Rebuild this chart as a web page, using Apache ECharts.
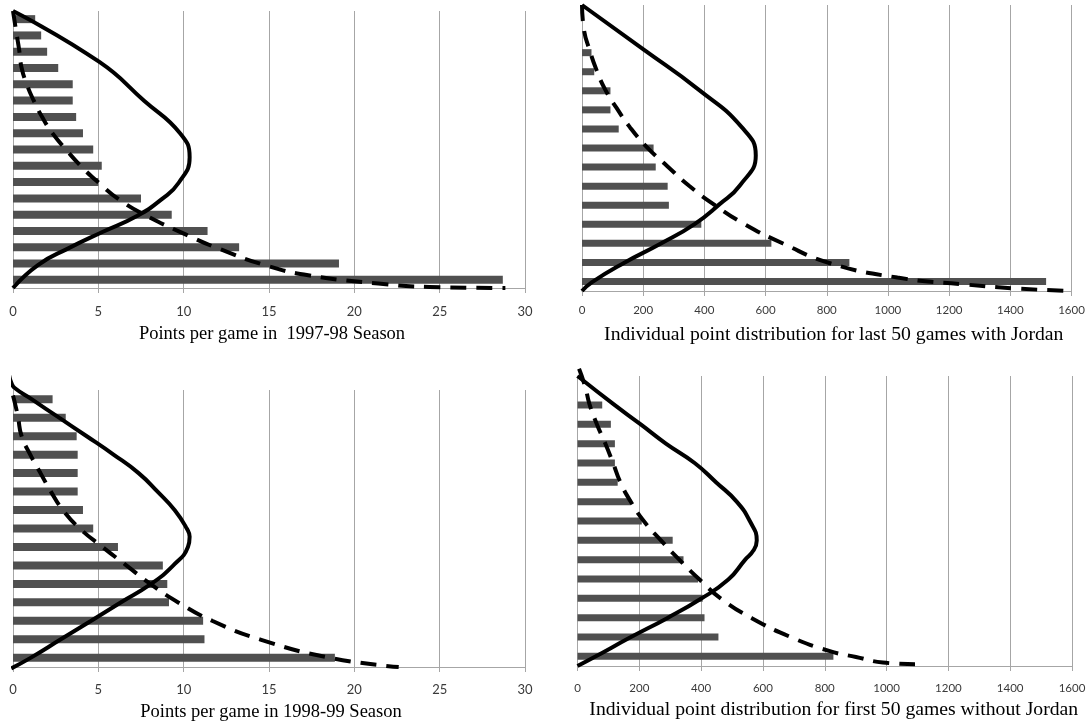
<!DOCTYPE html>
<html>
<head>
<meta charset="utf-8">
<script src="https://cdn.jsdelivr.net/npm/echarts/dist/echarts.min.js"></script>
<style>
html,body{margin:0;padding:0;background:#fff;}
#chart{width:1090px;height:723px;}
</style>
</head>
<body>
<div id="chart"></div>
<script>
// ---------- DATA ----------
const titles = [
  'Points per game in  1997-98 Season',
  'Individual point distribution for last 50 games with Jordan',
  'Points per game in 1998-99 Season',
  'Individual point distribution for first 50 games without Jordan'
];
const cats1 = ['P1','P2','P3','P4','P5','P6','P7','P8','P9','P10','P11','P12','P13','P14','P15','P16','P17'];
const cats2 = ['P1','P2','P3','P4','P5','P6','P7','P8','P9','P10','P11','P12','P13','P14','P15'];
const cats3 = ['P1','P2','P3','P4','P5','P6','P7','P8','P9','P10','P11','P12','P13','P14','P15'];
const cats4 = ['P1','P2','P3','P4','P5','P6','P7','P8','P9','P10','P11','P12','P13','P14','P15'];

const bars1 = [1.3, 1.65, 2.0, 2.65, 3.5, 3.5, 3.7, 4.1, 4.7, 5.2, 5.0, 7.5, 9.3, 11.4, 13.25, 19.1, 28.7];
const bars2 = [0, 0, 31, 40, 93, 93, 120, 234, 241, 280, 284, 390, 619, 874, 1517];
const bars3 = [2.32, 3.09, 3.73, 3.79, 3.79, 3.79, 4.1, 4.7, 6.15, 8.78, 9.04, 9.14, 11.14, 11.22, 18.86];
const bars4 = [0, 80, 108, 121, 121, 130, 171, 208, 308, 343, 390, 405, 411, 456, 828];

// curves: [value, height % of plot (0 = axis line, 100 = top)]
const solid1 = [[0,100],[5.06,81.6],[7.68,67.6],[9.8,55.8],[10.35,47.2],[9.71,38],[8.7,32],[7.29,26.1],[5.27,20.3],[3.27,14.4],[1.46,8.3],[0,0]];
const dashed1 = [[0,100],[0.2,92.1],[0.36,86],[0.5,79.6],[0.81,73.5],[1.21,67.7],[1.71,61.7],[2.32,55.8],[3.13,49.8],[4.03,43.7],[5.04,37.9],[6.25,31.8],[7.87,25.9],[9.88,20],[12.1,14.1],[14.9,8],[17.3,4.6],[21.4,1.6],[24.4,0.4],[28.85,0]];
const solid2 = [[0,100],[203,84.3],[379,70.6],[522,57.3],[568,47.4],[516,36.9],[448,30.2],[368,23.4],[258,16.6],[137,9.8],[33,3.1],[0,0]];
const dashed2 = [[0,100],[6.6,91.2],[25,84.2],[47,77.4],[75,70.6],[113,64],[157,57.2],[212,50.3],[278,43.7],[350,36.8],[432,30.2],[531,23.4],[657,16.6],[811,9.7],[1031,4.7],[1251,2.3],[1416,0.9],[1600,0]];
const solid3 = [[-0.23,105.4],[-0.09,102.5],[0.1,100.7],[1.11,96.6],[2.7,90],[4.3,83.4],[5.89,76.7],[7.36,70],[8.47,63.3],[9.48,56.6],[10.19,49.9],[10.35,47],[10.25,43.3],[9.38,36.6],[8.07,29.9],[6.31,23.3],[4.56,16.6],[2.78,9.9],[1.03,3.3],[-0.1,-0.5]];
const dashed3 = [[0,98],[0.16,94],[0.3,90],[0.5,83.4],[1.01,76.7],[1.61,70],[2.22,63.3],[2.93,56.6],[3.93,49.9],[5.25,43.3],[6.66,36.6],[8.07,29.9],[9.68,23.3],[11.7,16.6],[14.5,9.9],[18.6,3.3],[22.6,0]];
const solid4 = [[0,100],[117.5,90.2],[204.6,83.3],[286,76.7],[379,70],[449,63.3],[515,56.7],[558,49.9],[580,43.3],[569,39.8],[542,36.6],[488,29.8],[398,23.1],[290,16.5],[170,9.8],[55,3.1],[0,0]];
const dashed4 = [[5,102.5],[25,96.3],[39,90.2],[63,83.3],[90,76.7],[115,70],[139,63.3],[172,56.7],[215,49.9],[270,43.3],[330,36.6],[395,29.8],[466,23.1],[564,16.5],[694,9.8],[814,5.2],[901,3.1],[988,1.2],[1092,0.6]];

const xMax1 = 30, xStep1 = 5;
const xMax2 = 1600, xStep2 = 200;

// ---------- LAYOUT / STYLE ----------
const panels = [
  {grid:{left:13, top:11, width:512, height:277}, max:xMax1, interval:xStep1, cats:cats1, bars:bars1, solid:solid1, dashed:dashed1, title:titles[0], barWidth:8, labelSize:13, labelMargin:17, nameSize:18.5, nameGap:37, namePad:6},
  {grid:{left:582, top:5, width:489.5, height:286}, max:xMax2, interval:xStep2, cats:cats2, bars:bars2, solid:solid2, dashed:dashed2, title:titles[1], barWidth:7, labelSize:11.5, labelMargin:13, nameSize:19.7, nameGap:34, namePad:14},
  {grid:{left:13, top:390, width:512, height:277}, max:xMax1, interval:xStep1, cats:cats3, bars:bars3, solid:solid3, dashed:dashed3, title:titles[2], barWidth:8, labelSize:13, labelMargin:16, nameSize:18.5, nameGap:36, namePad:4},
  {grid:{left:577.5, top:376, width:494.5, height:290}, max:xMax2, interval:xStep2, cats:cats4, bars:bars4, solid:solid4, dashed:dashed4, title:titles[3], barWidth:7, labelSize:11.5, labelMargin:16, nameSize:19.7, nameGap:34, namePad:18}
];

const gridColor = '#a6a6a6';
const option = {
  animation:false,
  backgroundColor:'#ffffff',
  grid:[], xAxis:[], yAxis:[], series:[]
};

panels.forEach((p, i) => {
  option.grid.push(Object.assign({containLabel:false}, p.grid));
  option.xAxis.push({
    type:'value', gridIndex:i, min:0, max:p.max, interval:p.interval,
    name:p.title, nameLocation:'middle', nameGap:p.nameGap,
    nameTextStyle:{fontFamily:'Liberation Serif', fontSize:p.nameSize, color:'#000', padding:[0,0,0,p.namePad]},
    axisLine:{show:true, onZero:false, lineStyle:{color:gridColor, width:1}},
    axisTick:{show:true, length:5, lineStyle:{color:gridColor}},
    axisLabel:{margin:p.labelMargin, fontFamily:'Lato', fontSize:p.labelSize, color:'#3a3a3a', formatter:(v)=>String(v)},
    splitLine:{show:true, lineStyle:{color:gridColor, width:1}}
  });
  option.yAxis.push({
    type:'category', gridIndex:i, data:p.cats, inverse:true,
    axisLine:{show:true, onZero:false, lineStyle:{color:gridColor}},
    axisTick:{show:false}, axisLabel:{show:false}, splitLine:{show:false}
  });
  option.yAxis.push({
    type:'value', gridIndex:i, min:0, max:100, show:false, position:'right'
  });
  option.series.push({
    type:'bar', xAxisIndex:i, yAxisIndex:2*i, data:p.bars,
    barWidth:p.barWidth, itemStyle:{color:'#505050'}, silent:true
  });
  option.series.push({
    type:'line', xAxisIndex:i, yAxisIndex:2*i+1, data:p.solid,
    smooth:0.5, symbol:'none', clip:false,
    lineStyle:{color:'#000', width:4}
  });
  option.series.push({
    type:'line', xAxisIndex:i, yAxisIndex:2*i+1, data:p.dashed,
    smooth:0.5, symbol:'none', clip:false,
    lineStyle:{color:'#000', width:4, type:[16,10]}
  });
});

const chart = echarts.init(document.getElementById('chart'));
chart.setOption(option);
</script>
</body>
</html>
